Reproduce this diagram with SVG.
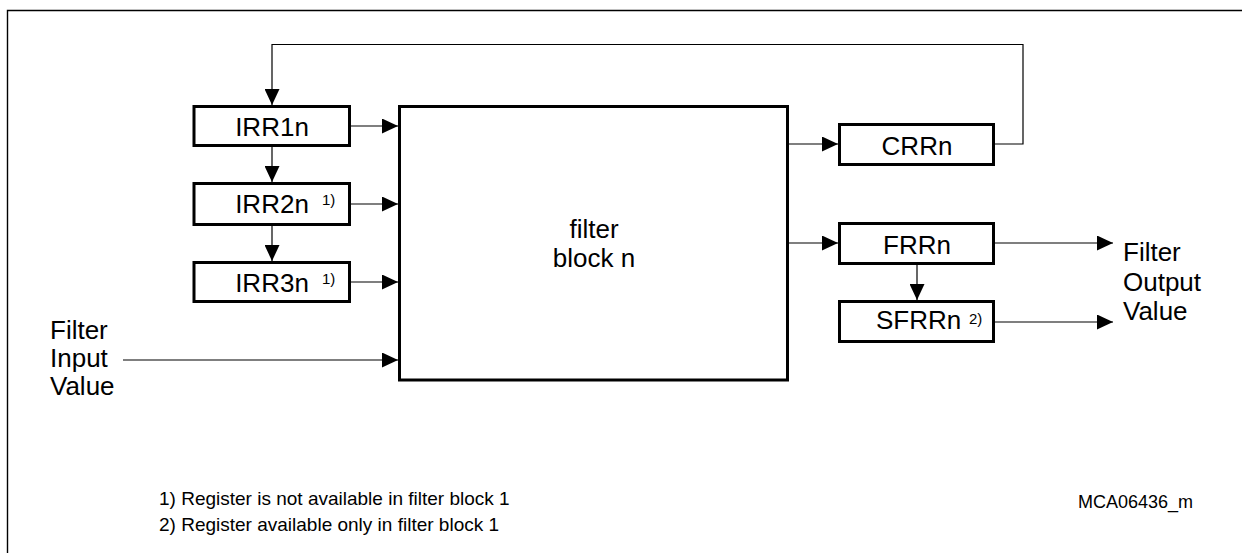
<svg xmlns="http://www.w3.org/2000/svg" width="1242" height="553" viewBox="0 0 1242 553">
<style>
.box{fill:#fff;stroke:#000;stroke-width:3}
.ln{fill:none;stroke:#000;stroke-width:1.2}
.t{font-family:"Liberation Sans",Arial,sans-serif;font-size:26px;fill:#000}
.s{font-family:"Liberation Sans",Arial,sans-serif;font-size:15px;fill:#000}
.f{font-family:"Liberation Sans",Arial,sans-serif;font-size:19px;fill:#000}
</style>
<defs>
<marker id="ah" markerWidth="16" markerHeight="15" refX="16" refY="7.5" orient="auto" markerUnits="userSpaceOnUse">
<path d="M0,0 L16,7.5 L0,15 Z" fill="#000"/>
</marker>
</defs>
<rect width="1242" height="553" fill="#fff"/>
<path d="M7.5,553 V10.5 H1242" fill="none" stroke="#000" stroke-width="1.4"/>

<g id="connectors">
<polyline class="ln" points="995,144 1023,144 1023,44.5 272,44.5 272,105" marker-end="url(#ah)"/>
<line class="ln" x1="272" y1="147" x2="272" y2="182" marker-end="url(#ah)"/>
<line class="ln" x1="272" y1="226" x2="272" y2="261" marker-end="url(#ah)"/>
<line class="ln" x1="351" y1="126" x2="398" y2="126" marker-end="url(#ah)"/>
<line class="ln" x1="351" y1="204" x2="398" y2="204" marker-end="url(#ah)"/>
<line class="ln" x1="351" y1="282" x2="398" y2="282" marker-end="url(#ah)"/>
<line class="ln" x1="123" y1="360" x2="398" y2="360" marker-end="url(#ah)"/>
<line class="ln" x1="789" y1="144" x2="838" y2="144" marker-end="url(#ah)"/>
<line class="ln" x1="789" y1="243" x2="838" y2="243" marker-end="url(#ah)"/>
<line class="ln" x1="995" y1="243" x2="1113" y2="243" marker-end="url(#ah)"/>
<line class="ln" x1="995" y1="322" x2="1113" y2="322" marker-end="url(#ah)"/>
<line class="ln" x1="917" y1="265" x2="917" y2="300" marker-end="url(#ah)"/>
</g>

<g id="irr1n">
<rect class="box" x="194" y="106.5" width="155.5" height="39"/>
<text class="t" x="272" y="136" text-anchor="middle">IRR1n</text>
</g>
<g id="irr2n">
<rect class="box" x="194" y="183.5" width="155.5" height="41"/>
<text class="t" x="272" y="213" text-anchor="middle">IRR2n</text>
<text class="s" x="322" y="205">1)</text>
</g>
<g id="irr3n">
<rect class="box" x="194" y="262.5" width="155.5" height="39"/>
<text class="t" x="272" y="292" text-anchor="middle">IRR3n</text>
<text class="s" x="322" y="284">1)</text>
</g>
<g id="filter-block">
<rect class="box" x="399.5" y="106.5" width="388" height="273.5"/>
<text class="t" x="594" y="238" text-anchor="middle">filter</text>
<text class="t" x="594" y="267" text-anchor="middle">block n</text>
</g>
<g id="crrn">
<rect class="box" x="839.5" y="124.5" width="154" height="40"/>
<text class="t" x="917" y="155" text-anchor="middle">CRRn</text>
</g>
<g id="frrn">
<rect class="box" x="839.5" y="223.5" width="154" height="40"/>
<text class="t" x="917" y="254" text-anchor="middle">FRRn</text>
</g>
<g id="sfrrn">
<rect class="box" x="839.5" y="301.5" width="154" height="40"/>
<text class="t" x="876" y="329">SFRRn</text>
<text class="s" x="969" y="324">2)</text>
</g>
<g id="input-label">
<text class="t" x="50" y="339">Filter</text>
<text class="t" x="50" y="367">Input</text>
<text class="t" x="50" y="395">Value</text>
</g>
<g id="output-label">
<text class="t" x="1123" y="261">Filter</text>
<text class="t" x="1123" y="291">Output</text>
<text class="t" x="1123" y="320">Value</text>
</g>
<g id="notes">
<text class="f" x="159" y="505">1) Register is not available in filter block 1</text>
<text class="f" x="159" y="531">2) Register available only in filter block 1</text>
<text class="f" x="1078" y="508" style="font-size:18px">MCA06436_m</text>
</g>
</svg>
